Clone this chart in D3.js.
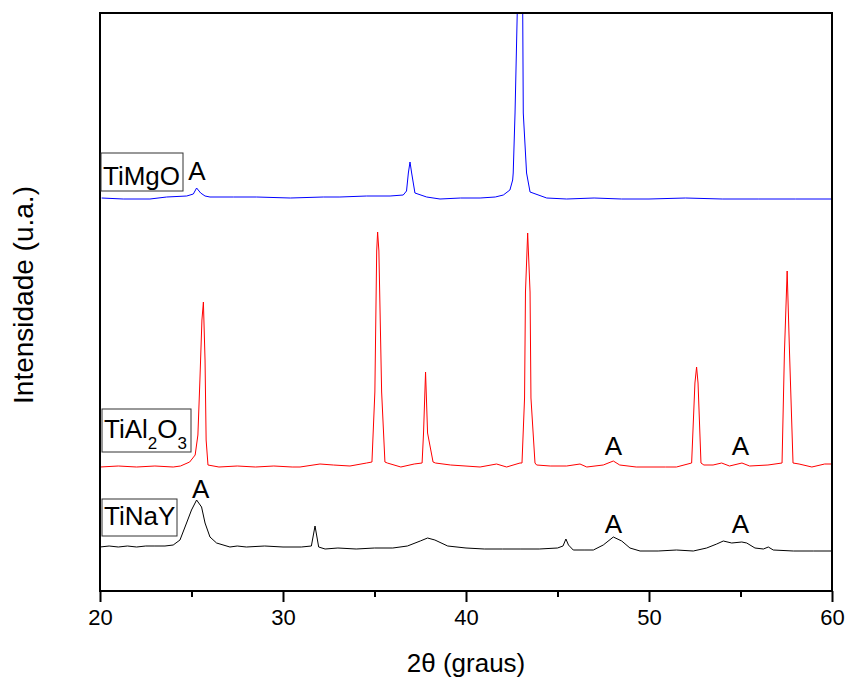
<!DOCTYPE html>
<html lang="pt">
<head>
<meta charset="UTF-8">
<title>DRX TiNaY / TiAl2O3 / TiMgO</title>
<script src="https://d3js.org/d3.v7.min.js"></script>
<style>
  body { margin: 0; background: #fff; }
  text { font-family: Arial, "Liberation Sans", sans-serif; fill: #000; }
  .trace { fill: none; stroke-width: 1; stroke-linejoin: round; }
  .frame { fill: none; stroke: #000; stroke-width: 2; }
  .axis path { display: none; }
  .axis line { stroke: #000; stroke-width: 2; }
  .axis text { font-size: 22px; }
  .tag { fill: none; stroke: #333; stroke-width: 1; }
</style>
</head>
<body>
<div id="chart"></div>
<script>
// 2theta (graus) and intensity (u.a., stacked)
const naYTheta = [20, 20.5, 21, 21.5, 22, 22.5, 23, 23.55, 24.0, 24.37, 24.73, 25.0, 25.28, 25.55, 25.74, 26.01, 26.37, 27.1,
  27.5, 28, 29, 30, 31, 31.55, 31.75, 31.95, 32.3, 33, 34, 35, 36, 36.8, 37.5, 37.9, 38.3, 39, 40, 41, 42, 43, 44, 45,
  45.3, 45.46, 45.6, 45.86, 46.5, 46.96, 47.5, 48.05, 48.51, 48.96, 49.51, 50.5, 51.5, 52.42, 53.15, 53.7, 54.06, 54.52,
  55.07, 55.34, 55.79, 56.25, 56.52, 56.79, 57.89, 59, 60];
const naYInt = [44, 45, 44, 45, 44, 45, 45, 45, 46, 51, 68, 81, 91, 84, 68, 54, 48, 44,
  45, 44, 45, 44, 44, 45, 65, 44, 42, 43, 42, 43, 43, 45, 50, 53, 51, 45, 43, 42, 42, 42, 42, 43,
  45, 52, 46, 41, 41, 41, 46, 54, 50, 43, 40, 40, 41, 40, 43, 47, 50, 48,
  49, 48, 43, 42, 44, 41, 40, 40, 40];

const alTheta = [20, 21, 22, 23, 24, 24.4, 24.9, 25.2, 25.35, 25.46, 25.57, 25.65, 25.74, 25.8, 25.9, 26.5, 27.5, 28.5,
  29.5, 30.5, 30.93, 32.02, 32.75, 33.66, 34.57, 34.86, 35.02, 35.12, 35.17, 35.24, 35.39, 35.57, 35.7, 36.44, 37.17,
  37.6, 37.68, 37.79, 37.9, 38.2, 38.33, 39.16, 40.77, 41.67, 42.22, 42.95, 43.06, 43.2, 43.25, 43.37, 43.5, 43.55,
  43.77, 43.86, 44.6, 45.5, 46.23, 46.6, 47.5, 48.05, 48.4, 49.3, 50.9, 51.5, 52.33, 52.51, 52.6, 52.68, 52.84, 53.0,
  53.5, 53.97, 54.4, 55.08, 55.5, 56.5, 57.27, 57.4, 57.55, 57.68, 57.87, 58.2, 58.9, 59.6, 60];
const alInt = [124, 125, 124, 125, 124, 125, 129, 136, 156, 211, 271, 289, 231, 151, 126, 124, 125, 124,
  125, 124, 124, 127, 126, 125, 128, 129, 199, 340, 359, 340, 199, 129, 128, 124, 127,
  128, 158, 219, 158, 129, 128, 126, 124, 127, 124, 128, 128, 193, 299, 358, 299, 193,
  128, 126, 125, 125, 127, 124, 126, 130, 126, 124, 124, 124, 128, 208, 224, 208, 128, 126,
  126, 128, 125, 128, 125, 126, 128, 238, 320, 238, 128, 127, 124, 127, 127];

const mgOTheta = [20.09, 21.27, 22.73, 23.64, 24.74, 25.1, 25.28, 25.5, 25.74, 26.01, 27.3, 28.56, 30.4, 32.2, 33.11,
  34.57, 35.85, 36.57, 36.75, 36.85, 36.94, 37.03, 37.21, 37.85, 38.58, 39.7, 40.77, 41.6, 42.04, 42.4, 42.55, 42.58,
  42.68, 42.8, 42.95, 43.1, 43.13, 43.31, 43.5, 44.41, 45.5, 47, 48.5, 50, 52, 54, 56, 58, 60];
const mgOInt = [393, 392, 392, 394, 395, 397, 403, 398, 395, 394, 394, 394, 393, 394, 394,
  395, 395, 396, 400, 418, 429, 418, 398, 394, 392, 393, 393, 394, 396, 401, 411, 418,
  478, 578, 700, 578, 478, 418, 399, 393, 392, 393, 392, 392, 393, 392, 392, 392, 392];

const seriesNames = ["TiNaY", "TiAl2O3", "TiMgO"];
const seriesColors = ["#000000", "#ff0000", "#0000ff"];
const xTicks = [20, 30, 40, 50, 60];
const xMinorTicks = [25, 35, 45, 55];
// anatase reflections marked with "A": [2theta, intensity of the letter baseline]
const anataseTheta = [25.3, 25.5, 48.05, 55.0, 48.05, 55.0];
const anataseInt = [411, 93, 136, 136, 58, 58];

const width = 847, height = 677;
const margin = {top: 13, right: 15, bottom: 86, left: 100};

const x = d3.scaleLinear().domain([20, 60]).range([margin.left, width - margin.right]);
const y = d3.scaleLinear().domain([0, 578]).range([height - margin.bottom, margin.top]);

const svg = d3.select("#chart").append("svg")
  .attr("width", width)
  .attr("height", height);

svg.append("clipPath").attr("id", "plot")
  .append("rect")
  .attr("x", margin.left).attr("y", margin.top)
  .attr("width", width - margin.left - margin.right)
  .attr("height", height - margin.top - margin.bottom);

const line = d3.line().x(d => x(d[0])).y(d => y(d[1]));

const traces = [
  d3.zip(naYTheta, naYInt),
  d3.zip(alTheta, alInt),
  d3.zip(mgOTheta, mgOInt)
];

svg.append("g").attr("clip-path", "url(#plot)")
  .selectAll("path")
  .data(traces)
  .join("path")
  .attr("class", "trace")
  .attr("stroke", (d, i) => seriesColors[i])
  .attr("d", line);

// frame
svg.append("rect")
  .attr("class", "frame")
  .attr("x", margin.left).attr("y", margin.top)
  .attr("width", width - margin.left - margin.right)
  .attr("height", height - margin.top - margin.bottom);

// bottom axis
svg.append("g")
  .attr("class", "axis")
  .attr("transform", `translate(0,${height - margin.bottom})`)
  .call(d3.axisBottom(x).tickValues(xTicks).tickSize(11).tickPadding(7).tickFormat(d3.format("d")));

svg.append("g")
  .attr("class", "axis")
  .attr("transform", `translate(0,${height - margin.bottom})`)
  .call(d3.axisBottom(x).tickValues(xMinorTicks).tickSize(6).tickFormat(""));

svg.append("text")
  .attr("x", (margin.left + width - margin.right) / 2)
  .attr("y", 672)
  .attr("text-anchor", "middle")
  .style("font-size", "26px")
  .text("2θ (graus)");

svg.append("text")
  .attr("transform", "translate(33,295) rotate(-90)")
  .attr("text-anchor", "middle")
  .style("font-size", "28px")
  .text("Intensidade (u.a.)");

// "A" markers
svg.append("g")
  .selectAll("text")
  .data(d3.zip(anataseTheta, anataseInt))
  .join("text")
  .attr("x", d => x(d[0]))
  .attr("y", d => y(d[1]))
  .attr("text-anchor", "middle")
  .style("font-size", "26px")
  .text("A");

// sample tags (boxed labels)
const tagBoxes = [
  {x: 102, y: 499, w: 75, h: 37, base: 525},
  {x: 102, y: 409, w: 89, h: 43, base: 438},
  {x: 101, y: 153, w: 82, h: 38, base: 185}
];

tagBoxes.forEach((b, i) => {
  svg.append("rect").attr("class", "tag")
    .attr("x", b.x).attr("y", b.y).attr("width", b.w).attr("height", b.h);
  const t = svg.append("text")
    .attr("x", b.x + 2).attr("y", b.base)
    .style("font-size", "26px");
  if (seriesNames[i] === "TiAl2O3") {
    t.append("tspan").text("TiAl");
    t.append("tspan").attr("dy", 11).style("font-size", "17px").text("2");
    t.append("tspan").attr("dy", -11).text("O");
    t.append("tspan").attr("dy", 11).style("font-size", "17px").text("3");
  } else {
    t.text(seriesNames[i]);
  }
});
</script>
</body>
</html>
